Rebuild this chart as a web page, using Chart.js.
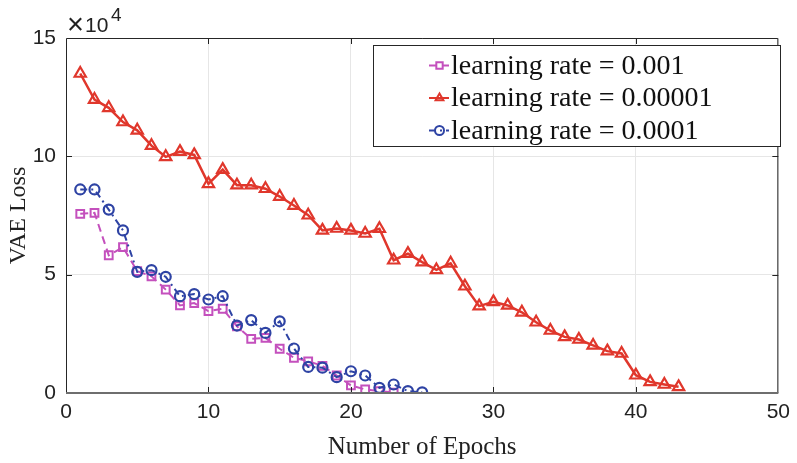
<!DOCTYPE html>
<html>
<head>
<meta charset="utf-8">
<script src="https://cdn.jsdelivr.net/npm/chart.js@4/dist/chart.umd.min.js"></script>
<style>
  html, body { margin: 0; padding: 0; background: #fff; }
  #wrap { width: 797px; height: 463px; }
</style>
</head>
<body>
<div id="wrap"><canvas id="chart" width="797" height="463"></canvas></div>
<script>
// VAE loss per epoch for three learning rates (values in units of 10^4)
const epochsLr1e3 = [1,2,3,4,5,6,7,8,9,10,11,12,13,14,15,16,17,18,19,20,21,22,23];
const lossLr1e3 = [7.57,7.61,5.82,6.16,5.15,4.93,4.37,3.70,3.80,3.46,3.56,2.82,2.29,2.33,1.87,1.49,1.34,1.15,0.74,0.32,0.15,0.08,0.02];

const epochsLr1e5 = [1,2,3,4,5,6,7,8,9,10,11,12,13,14,15,16,17,18,19,20,21,22,23,24,25,26,27,28,29,30,31,32,33,34,35,36,37,38,39,40,41,42,43];
const lossLr1e5 = [13.5,12.4,12.05,11.45,11.1,10.45,9.98,10.2,10.06,8.84,9.44,8.78,8.78,8.63,8.3,7.92,7.51,6.87,6.95,6.87,6.74,6.94,5.61,5.89,5.53,5.2,5.48,4.51,3.67,3.85,3.7,3.41,2.99,2.64,2.37,2.26,2.01,1.77,1.67,0.75,0.47,0.36,0.26];

const epochsLr1e4 = [1,2,3,4,5,6,7,8,9,10,11,12,13,14,15,16,17,18,19,20,21,22,23,24,25];
const lossLr1e4 = [8.60,8.60,7.75,6.87,5.12,5.19,4.91,4.09,4.18,3.95,4.09,2.85,3.08,2.54,3.03,1.88,1.10,1.07,0.67,0.92,0.74,0.22,0.36,0.08,0.03];

const seriesLabels = ['learning rate = 0.001', 'learning rate = 0.00001', 'learning rate = 0.0001'];
const xTicks = [0, 10, 20, 30, 40, 50];
const yTicks = [0, 5, 10, 15];

const RED = '#e0372c', MAGENTA = '#c450bd', BLUE = '#2e43a4';
const SANS = '"Liberation Sans", Arial, sans-serif';
const SERIF = '"Liberation Serif", "Times New Roman", serif';

function pts(xs, ys) { return xs.map((x, i) => ({ x, y: ys[i] })); }

// ── marker drawing (shared by legend) ─────────────────────────────────────────
function marker(ctx, style, x, y, r, color) {
  ctx.save();
  ctx.strokeStyle = color;
  ctx.lineWidth = 2;
  ctx.setLineDash([]);
  ctx.beginPath();
  if (style === 'rect') {
    const s = r * Math.SQRT1_2;
    ctx.rect(x - s, y - s, 2 * s, 2 * s);
  } else if (style === 'triangle') {
    ctx.moveTo(x, y - r);
    ctx.lineTo(x + r * 0.866, y + r * 0.5);
    ctx.lineTo(x - r * 0.866, y + r * 0.5);
    ctx.closePath();
  } else {
    ctx.arc(x, y, r, 0, Math.PI * 2);
  }
  ctx.stroke();
  ctx.restore();
}

// ── frame, inward ticks, exponent, legend ─────────────────────────────────────
const matlabFrame = {
  id: 'matlabFrame',
  afterDatasetsDraw(chart) {
    const { ctx, chartArea: a, scales } = chart;
    ctx.save();
    // inward tick marks
    ctx.strokeStyle = '#222';
    ctx.lineWidth = 1;
    ctx.beginPath();
    xTicks.slice(1, -1).forEach(v => {
      const x = Math.round(scales.x.getPixelForValue(v)) + 0.5;
      ctx.moveTo(x, a.bottom); ctx.lineTo(x, a.bottom - 6);
      ctx.moveTo(x, a.top); ctx.lineTo(x, a.top + 6);
    });
    yTicks.slice(1, -1).forEach(v => {
      const y = Math.round(scales.y.getPixelForValue(v)) + 0.5;
      ctx.moveTo(a.left, y); ctx.lineTo(a.left + 6, y);
      ctx.moveTo(a.right, y); ctx.lineTo(a.right - 6, y);
    });
    ctx.stroke();
    // box
    ctx.strokeStyle = '#262626';
    ctx.beginPath();
    ctx.moveTo(a.left + 0.5, a.bottom); ctx.lineTo(a.left + 0.5, a.top + 0.5);
    ctx.lineTo(a.right - 0.5, a.top + 0.5); ctx.lineTo(a.right - 0.5, a.bottom);
    ctx.stroke();
    ctx.strokeStyle = '#6e6e6e';
    ctx.lineWidth = 2;
    ctx.beginPath();
    ctx.moveTo(a.left, a.bottom); ctx.lineTo(a.right, a.bottom);
    ctx.stroke();

    // ×10^4 exponent label
    ctx.fillStyle = '#222';
    ctx.textBaseline = 'alphabetic';
    ctx.textAlign = 'left';
    ctx.font = '29px ' + SANS;
    ctx.fillText('×', a.left + 1, a.top - 4);
    ctx.font = '21px ' + SANS;
    ctx.fillText('10', a.left + 19, a.top - 6);
    ctx.font = '19px ' + SANS;
    ctx.fillText('4', a.left + 45, a.top - 17);

    // legend
    const box = { l: 373.5, t: 45.5, r: 780.5, b: 146.5 };
    ctx.fillStyle = '#fff';
    ctx.fillRect(box.l, box.t, box.r - box.l, box.b - box.t);
    ctx.strokeStyle = '#262626';
    ctx.lineWidth = 1;
    ctx.strokeRect(box.l, box.t, box.r - box.l, box.b - box.t);
    const rows = [65.5, 98, 130.5];
    chart.data.datasets.forEach((ds, i) => {
      const y = rows[i];
      ctx.save();
      ctx.strokeStyle = ds.borderColor;
      ctx.lineWidth = 2;
      ctx.setLineDash(ds.borderDash || []);
      ctx.beginPath();
      ctx.moveTo(429, y); ctx.lineTo(449, y);
      ctx.stroke();
      ctx.restore();
      marker(ctx, ds.pointStyle, 439.5, y, 4.5, ds.borderColor);
      ctx.fillStyle = '#111';
      ctx.font = '28px ' + SERIF;
      ctx.textBaseline = 'middle';
      ctx.fillText(ds.label, 451, y + 1);
    });
    ctx.restore();
  }
};

new Chart(document.getElementById('chart'), {
  type: 'line',
  data: {
    datasets: [
      { label: seriesLabels[0], data: pts(epochsLr1e3, lossLr1e3), order: 3,
        borderColor: MAGENTA, borderWidth: 2, borderDash: [8, 5],
        pointStyle: 'rect', pointRadius: 5.5, pointBorderWidth: 2,
        pointBorderColor: MAGENTA, pointBackgroundColor: 'rgba(0,0,0,0)' },
      { label: seriesLabels[1], data: pts(epochsLr1e5, lossLr1e5), order: 2,
        borderColor: RED, borderWidth: 2.5,
        pointStyle: 'triangle', pointRadius: 6.5, pointBorderWidth: 2.2,
        pointBorderColor: RED, pointBackgroundColor: 'rgba(0,0,0,0)' },
      { label: seriesLabels[2], data: pts(epochsLr1e4, lossLr1e4), order: 1,
        borderColor: BLUE, borderWidth: 2, borderDash: [7, 4, 2, 4],
        pointStyle: 'circle', pointRadius: 5, pointBorderWidth: 2.2,
        pointBorderColor: BLUE, pointBackgroundColor: 'rgba(0,0,0,0)' },
    ],
  },
  options: {
    responsive: false,
    devicePixelRatio: 1,
    animation: false,
    layout: { padding: { top: 38, right: 14, bottom: 0, left: 0 } },
    plugins: { legend: { display: false }, tooltip: { enabled: false } },
    elements: { line: { tension: 0 } },
    scales: {
      x: {
        type: 'linear', min: 0, max: 50,
        afterBuildTicks: s => { s.ticks = xTicks.map(v => ({ value: v })); },
        afterFit: s => { s.height = 70; },
        grid: { color: '#e6e6e6', drawTicks: false },
        border: { display: false },
        ticks: { padding: 7, color: '#222', font: { family: SANS, size: 21 } },
        title: { display: true, text: 'Number of Epochs', color: '#222',
                 font: { family: SERIF, size: 25 }, padding: { top: 0, bottom: 1 } },
      },
      y: {
        min: 0, max: 15,
        afterBuildTicks: s => { s.ticks = yTicks.map(v => ({ value: v })); },
        afterFit: s => { s.width = 66; },
        grid: { color: '#e6e6e6', drawTicks: false },
        border: { display: false },
        ticks: { padding: 10, color: '#222', font: { family: SANS, size: 21 } },
        title: { display: true, text: 'VAE Loss', color: '#222',
                 font: { family: SERIF, size: 24 }, padding: { top: 4, bottom: 0 } },
      },
    },
  },
  plugins: [matlabFrame],
});
</script>
</body>
</html>
